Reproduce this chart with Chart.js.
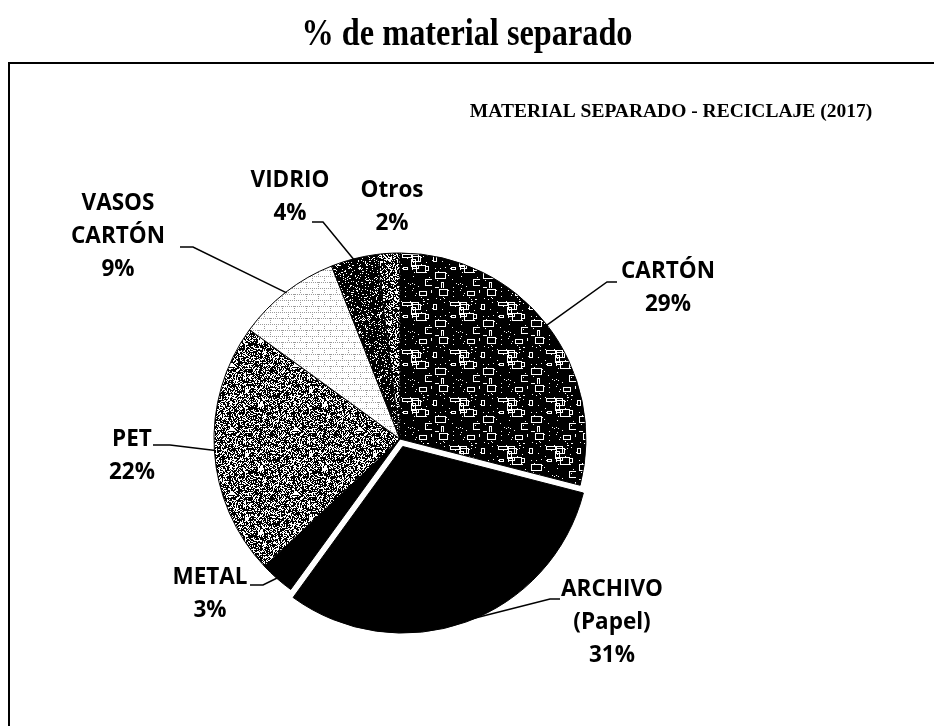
<!DOCTYPE html>
<html>
<head>
<meta charset="utf-8">
<script src="https://cdn.jsdelivr.net/npm/chart.js@4.4.0/dist/chart.umd.min.js"></script>
<style>
    html, body { margin: 0; padding: 0; background: #fff; }
    #wrap { width: 934px; height: 726px; position: relative; }
</style>
</head>
<body>
<div id="wrap"><canvas id="pieChart" width="934" height="726"></canvas></div>
<script>
// Daten
var categories = ['CARTÓN', 'ARCHIVO (Papel)', 'METAL', 'PET', 'VASOS CARTÓN', 'VIDRIO', 'Otros'];
var percents = [29, 31, 3, 22, 9, 4, 2];
var chartTitle = '% de material separado';
var chartSubtitle = 'MATERIAL SEPARADO - RECICLAJE (2017)';

// Position der Beschriftungen (Textmitte erste Zeile, waagrechtes Stück der Führungslinie)
var labelLayout = [
    { tx: 668, ty: 272, h: [617, 607, 282] },
    { tx: 612, ty: 590, h: [560, 550, 599] },
    { tx: 210, ty: 578, h: [250, 263, 585] },
    { tx: 132, ty: 440, h: [153, 170, 445] },
    { tx: 118, ty: 204, h: [180, 193, 247] },
    { tx: 290, ty: 181, h: [312, 323, 222] },
    { tx: 392, ty: 191, h: null }
];

// einfache, feste Pseudo-Zufallsfolge nur für die Füllmuster
function lcg(seed) {
    var s = seed;
    return function() {
        s = (s * 1103515245 + 12345) & 0x7fffffff;
        return s / 0x7fffffff;
    };
}

function noisePattern(darkShare, seed, size) {
    var c = document.createElement('canvas');
    c.width = size; c.height = size;
    var g = c.getContext('2d');
    var img = g.createImageData(size, size);
    var rnd = lcg(seed);
    for (var i = 0; i < size * size; i++) {
        var v = rnd() < darkShare ? 0 : 255;
        img.data[i * 4] = v; img.data[i * 4 + 1] = v; img.data[i * 4 + 2] = v; img.data[i * 4 + 3] = 255;
    }
    g.putImageData(img, 0, 0);
    return g.createPattern(c, 'repeat');
}

function cartonPattern() {
    var c = document.createElement('canvas');
    c.width = 48; c.height = 48;
    var g = c.getContext('2d');
    g.fillStyle = '#000';
    g.fillRect(0, 0, 48, 48);
    g.strokeStyle = '#fff';
    g.lineWidth = 1;
    var rnd = lcg(7);
    for (var i = 0; i < 16; i++) {
        var x = Math.floor(rnd() * 48) + 0.5, y = Math.floor(rnd() * 48) + 0.5;
        var w = 2 + Math.floor(rnd() * 9), h = 2 + Math.floor(rnd() * 6);
        g.strokeRect(x, y, w, h);
    }
    g.fillStyle = '#fff';
    for (var k = 0; k < 60; k++) {
        g.fillRect(Math.floor(rnd() * 48), Math.floor(rnd() * 48), 1, 1);
    }
    return g.createPattern(c, 'repeat');
}

function vasosPattern() {
    var c = document.createElement('canvas');
    c.width = 12; c.height = 12;
    var g = c.getContext('2d');
    g.fillStyle = '#fff';
    g.fillRect(0, 0, 12, 12);
    g.fillStyle = '#9a9a9a';
    for (var x = 0; x < 12; x += 2) { g.fillRect(x, 0, 1, 1); g.fillRect(x + 1, 6, 1, 1); }
    for (var y = 0; y < 6; y += 2) { g.fillRect(0, y, 1, 1); g.fillRect(6, y + 6, 1, 1); }
    return g.createPattern(c, 'repeat');
}

var sliceFills = [
    cartonPattern(),
    '#000000',
    '#000000',
    noisePattern(0.6, 11, 64),
    vasosPattern(),
    noisePattern(0.85, 23, 64),
    noisePattern(0.62, 31, 64)
];

var decorPlugin = {
    id: 'decor',
    beforeDraw: function(chart) {
        var ctx = chart.ctx;
        ctx.save();
        ctx.fillStyle = '#000';
        // Haupttitel (schmal gesetzt)
        ctx.font = 'bold 38px "Liberation Serif", "Times New Roman", serif';
        ctx.textAlign = 'center';
        ctx.textBaseline = 'alphabetic';
        ctx.save();
        ctx.translate(467, 45);
        ctx.scale(0.85, 1);
        ctx.fillText(chartTitle, 0, 0);
        ctx.restore();
        // Rahmen
        ctx.strokeStyle = '#000';
        ctx.lineWidth = 2;
        ctx.beginPath();
        ctx.moveTo(934, 63);
        ctx.lineTo(9, 63);
        ctx.lineTo(9, 726);
        ctx.stroke();
        // Untertitel
        ctx.font = 'bold 19.5px "Liberation Serif", "Times New Roman", serif';
        ctx.fillText(chartSubtitle, 671, 117);
        ctx.restore();
    },
    afterDraw: function(chart) {
        var ctx = chart.ctx;
        var arcs = chart.getDatasetMeta(0).data;
        ctx.save();
        ctx.fillStyle = '#000';
        ctx.strokeStyle = '#000';
        ctx.lineWidth = 1.5;
        ctx.font = 'bold 22.5px "Open Sans", "Noto Sans", sans-serif';
        ctx.textAlign = 'center';
        ctx.textBaseline = 'middle';
        for (var i = 0; i < arcs.length; i++) {
            var lay = labelLayout[i];
            var lines = categories[i].split(' ');
            lines.push(percents[i] + '%');
            for (var j = 0; j < lines.length; j++) {
                ctx.fillText(lines[j], lay.tx, lay.ty + j * 33);
            }
            if (lay.h) {
                var p = arcs[i].getProps(['x', 'y', 'startAngle', 'endAngle', 'outerRadius'], true);
                var mid = (p.startAngle + p.endAngle) / 2;
                // Chart.js v4 verschiebt ein Segment um offset/4
                var off = (arcs[i].options.offset || 0) / 4;
                var r = p.outerRadius - 1;
                var ex = p.x + Math.cos(mid) * (r + off);
                var ey = p.y + Math.sin(mid) * (r + off);
                ctx.beginPath();
                ctx.moveTo(lay.h[0], lay.h[2]);
                ctx.lineTo(lay.h[1], lay.h[2]);
                ctx.lineTo(ex, ey);
                ctx.stroke();
            }
        }
        ctx.restore();
    }
};

var ctx = document.getElementById('pieChart').getContext('2d');
new Chart(ctx, {
    type: 'pie',
    data: {
        labels: categories,
        datasets: [{
            data: percents,
            backgroundColor: sliceFills,
            borderColor: '#000',
            borderWidth: 1,
            offset: [0, 32, 0, 0, 0, 0, 0]
        }]
    },
    options: {
        responsive: false,
        animation: false,
        events: [],
        radius: 186,
        layout: { padding: { left: 0, right: 134, top: 152, bottom: 0 } },
        plugins: {
            legend: { display: false },
            title: { display: false },
            tooltip: { enabled: false }
        }
    },
    plugins: [decorPlugin]
});
</script>
</body>
</html>
